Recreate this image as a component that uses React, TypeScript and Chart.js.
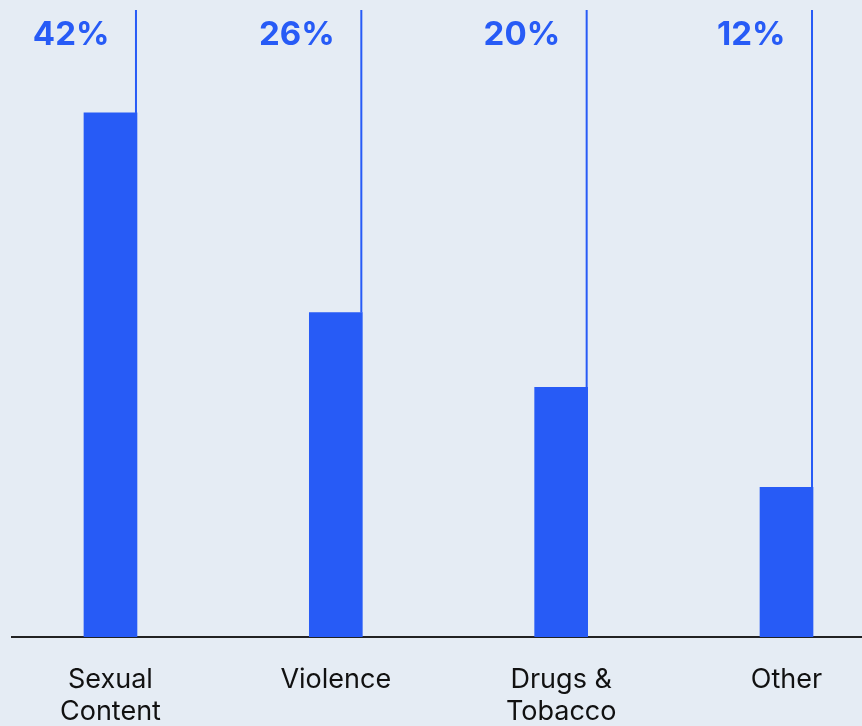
import React, { useEffect, useRef } from "react";
import { Chart, registerables } from "chart.js";

Chart.register(...registerables);

const categories: (string | string[])[] = [["Sexual", "Content"], "Violence", ["Drugs &", "Tobacco"], "Other"];
const values: number[] = [42, 26, 20, 12];
const valueLabels: string[] = ["42%", "26%", "20%", "12%"];

const BLUE = "#275bf6";
const BG = "#e5ecf4";

export default function App() {
  const ref = useRef<HTMLCanvasElement | null>(null);

  useEffect(() => {
    document.body.style.margin = "0";
    document.body.style.background = BG;
    const canvas = ref.current!;
    const overlay = {
      id: "overlay",
      afterDatasetsDraw(chart: any) {
        const ctx = chart.ctx;
        const meta = chart.getDatasetMeta(0);
        const top = chart.chartArea.top;
        ctx.save();
        meta.data.forEach((el: any, i: number) => {
          const right = el.x + el.width / 2;
          ctx.fillStyle = BLUE;
          ctx.fillRect(right - 2, top, 2, el.y - top);
          ctx.font = "bold 33px Inter";
          ctx.textAlign = "right";
          ctx.textBaseline = "middle";
          ctx.fillText(valueLabels[i], el.x - 1, 35);
        });
        ctx.restore();
      },
    };
    const chart = new Chart(canvas, {
      type: "bar",
      data: {
        datasets: [
          {
            data: values.map((v, i) => ({ x: i, y: v })),
            backgroundColor: BLUE,
            barThickness: 53,
            borderWidth: 0,
          },
        ],
      },
      options: {
        animation: false,
        responsive: false,
        maintainAspectRatio: false,
        layout: { padding: { left: 12, top: 10, right: 0, bottom: 0 } },
        plugins: { legend: { display: false }, tooltip: { enabled: false } },
        scales: {
          x: {
            type: "linear",
            offset: false,
            min: -0.437,
            max: 3.335,
            grid: { display: false },
            border: { display: true, color: "#222", width: 2 },
            afterFit(scale: any) {
              scale.height = 89;
            },
            ticks: {
              stepSize: 1,
              includeBounds: false,
              autoSkip: false,
              maxRotation: 0,
              padding: 19,
              color: "#111",
              font: { family: "Inter", size: 27, lineHeight: 1.18 },
              callback: (v: any) => {
                const n = Number(v);
                return Number.isInteger(n) && n >= 0 && n < categories.length ? (categories[n] as any) : "";
              },
            },
          },
          y: {
            display: false,
            min: 0,
            max: 50.25,
          },
        },
      },
      plugins: [overlay],
    });
    return () => chart.destroy();
  }, []);

  return (
    <div style={{ width: 862, height: 726, background: BG }}>
      <canvas ref={ref} width={862} height={726} style={{ display: "block" }} />
    </div>
  );
}
